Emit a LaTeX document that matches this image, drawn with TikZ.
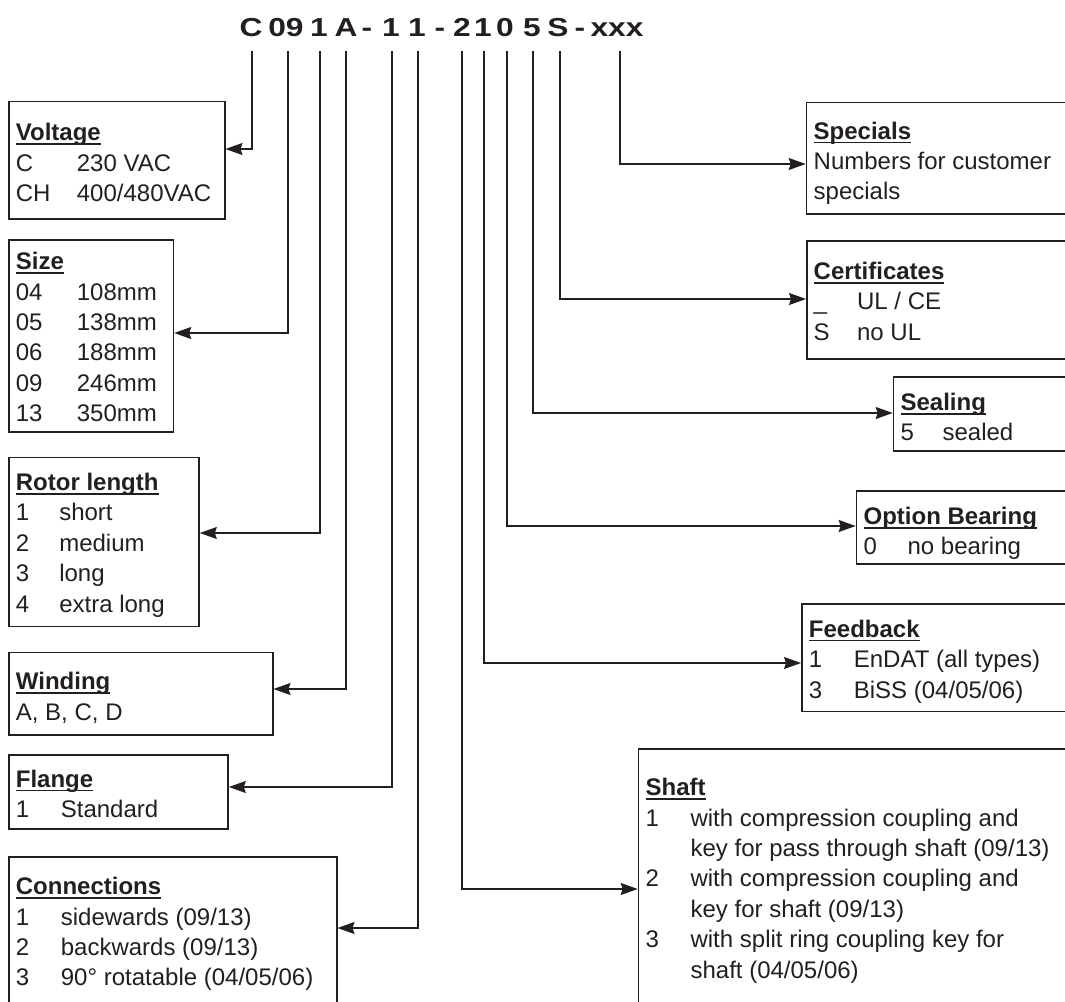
\documentclass[tikz,border=0pt]{standalone}
\usepackage{fontspec}
\setmainfont{Liberation Sans}
\newfontfamily\codefont[FakeStretch=1.22]{Liberation Sans}
\usetikzlibrary{arrows.meta}

\definecolor{ink}{RGB}{35,31,32}

% underlined box heading and code column
\newcommand{\boxhead}[1]{\sbox0{\bfseries #1}\rlap{\rule[-2pt]{\wd0}{0.7pt}}\usebox0}
\newcommand{\optkey}[2][22pt]{\makebox[#1][l]{#2}}

\begin{document}
\begin{tikzpicture}[x=0.5pt, y=-0.5pt,
  box/.style={draw=ink, line width=0.75pt, anchor=north west, inner sep=0pt},
  txt/.style={anchor=north west, align=left, inner sep=0pt, text=ink,
    font=\fontsize{12}{15.2}\selectfont},
  code/.style={anchor=base, inner sep=0pt, text depth=7.5pt, text=ink,
    font=\codefont\fontsize{13}{15}\selectfont\bfseries},
  arr/.style={draw=ink, line width=0.75pt,
    -{Stealth[length=8.5pt,width=6pt,inset=1pt]}}
  ]
  \useasboundingbox (0,0) rectangle (1065,1001);
  \clip (0,0) rectangle (1065,1001);

  % type code
  \node[code] (cVolt)  at (251,36) {C};
  \node[code] (cSize)  at (286,36) {09};
  \node[code] (cRotor) at (319,36) {1};
  \node[code] (cWind)  at (346,36) {A};
  \node[code] (d1)     at (367,36) {-};
  \node[code] (cFlng)  at (391,36) {1};
  \node[code] (cConn)  at (417,36) {1};
  \node[code] (d2)     at (440,36) {-};
  \node[code] (cShaft) at (462,36) {2};
  \node[code] (cFeed)  at (483,36) {1};
  \node[code] (cBear)  at (505,36) {0};
  \node[code] (cSeal)  at (532,36) {5};
  \node[code] (cCert)  at (558,36) {S};
  \node[code] (d3)     at (580,36) {-};
  \node[code] (cSpec)  at (617,36) {xxx};

  % left boxes
  \node[box, minimum width=108pt, minimum height=58.65pt] (volt) at (8,100.7) {};
  \node[txt] (voltT) at (15.5,123) {\boxhead{Voltage}\\
    \optkey[30.5pt]{C}230 VAC\\
    \optkey[30.5pt]{CH}400/480VAC};

  \node[box, minimum width=82.35pt, minimum height=96pt] (size) at (8,239) {};
  \node[txt] (sizeT) at (15.5,252) {\boxhead{Size}\\
    \optkey[30.5pt]{04}108mm\\
    \optkey[30.5pt]{05}138mm\\
    \optkey[30.5pt]{06}188mm\\
    \optkey[30.5pt]{09}246mm\\
    \optkey[30.5pt]{13}350mm};

  \node[box, minimum width=95.15pt, minimum height=84.5pt] (rotor) at (8,456.7) {};
  \node[txt] (rotorT) at (15.5,472.8) {\boxhead{Rotor length}\\
    \optkey[21.7pt]{1}short\\
    \optkey[21.7pt]{2}medium\\
    \optkey[21.7pt]{3}long\\
    \optkey[21.7pt]{4}extra long};

  \node[box, minimum width=132pt, minimum height=41.3pt] (wind) at (8,651.7) {};
  \node[txt] (windT) at (15.5,672) {\boxhead{Winding}\\
    A, B, C, D};

  \node[box, minimum width=109.65pt, minimum height=37.15pt] (flng) at (8,754) {};
  \node[txt] (flngT) at (15.5,769.5) {\boxhead{Flange}\\
    \optkey[22.5pt]{1}Standard};

  \node[box, minimum width=164pt, minimum height=80pt] (conn) at (8,856) {};
  \node[txt] (connT) at (15.5,876.8) {\boxhead{Connections}\\
    \optkey[22.5pt]{1}sidewards (09/13)\\
    \optkey[22.5pt]{2}backwards (09/13)\\
    \optkey[22.5pt]{3}90° rotatable (04/05/06)};

  % right boxes
  \node[box, minimum width=134.65pt, minimum height=55.8pt] (spec) at (805.7,101.7) {};
  \node[txt] (specT) at (813.3,121.3) {\boxhead{Specials}\\
    Numbers for customer\\
    specials};

  \node[box, minimum width=134.5pt, minimum height=59.15pt] (cert) at (806,240) {};
  \node[txt] (certT) at (813.3,261.8) {\boxhead{Certificates}\\
    \optkey[21.7pt]{\_}UL / CE\\
    \optkey[21.7pt]{S}no UL};

  \node[box, minimum width=91.15pt, minimum height=37pt] (seal) at (892.7,376) {};
  \node[txt] (sealT) at (900.2,392.8) {\boxhead{Sealing}\\
    \optkey[21pt]{5}sealed};

  \node[box, minimum width=109.65pt, minimum height=36.65pt] (bear) at (855.7,490) {};
  \node[txt] (bearT) at (863.2,506.8) {\boxhead{Option Bearing}\\
    \optkey[22pt]{0}no bearing};

  \node[box, minimum width=137pt, minimum height=53.85pt] (feed) at (801,603) {};
  \node[txt] (feedT) at (808.5,619.5) {\boxhead{Feedback}\\
    \optkey[22.5pt]{1}EnDAT (all types)\\
    \optkey[22.5pt]{3}BiSS (04/05/06)};

  \node[box, minimum width=218.65pt, minimum height=131pt] (shaft) at (637.7,748) {};
  \node[txt] (shaftT) at (645.2,777.8) {\boxhead{Shaft}\\
    \optkey[22.5pt]{1}with compression coupling and\\
    \optkey[22.5pt]{}key for pass through shaft (09/13)\\
    \optkey[22.5pt]{2}with compression coupling and\\
    \optkey[22.5pt]{}key for shaft (09/13)\\
    \optkey[22.5pt]{3}with split ring coupling key for\\
    \optkey[22.5pt]{}shaft (04/05/06)};

  % connectors
  \draw[arr] ([xshift=0.6pt]cVolt.south)  |- (volt.east |- 0,149);
  \draw[arr] ([xshift=1pt]cSize.south)    |- (size.east |- 0,333);
  \draw[arr] ([xshift=0.6pt]cRotor.south) |- (rotor.east |- 0,533);
  \draw[arr] (cWind.south)  |- (wind.east |- 0,689);
  \draw[arr] ([xshift=0.6pt]cFlng.south)  |- (flng.east |- 0,787);
  \draw[arr] ([xshift=0.6pt]cConn.south)  |- (conn.east |- 0,928);
  \draw[arr] (cShaft.south) |- (shaft.west |- 0,889);
  \draw[arr] ([xshift=0.6pt]cFeed.south)  |- (feed.west |- 0,663);
  \draw[arr] ([xshift=1pt]cBear.south)    |- (bear.west |- 0,526);
  \draw[arr] ([xshift=0.6pt]cSeal.south)  |- (seal.west |- 0,413);
  \draw[arr] ([xshift=1pt]cCert.south)    |- (cert.west |- 0,299);
  \draw[arr] ([xshift=1.5pt]cSpec.south)  |- (spec.west |- 0,164);
\end{tikzpicture}
\end{document}
